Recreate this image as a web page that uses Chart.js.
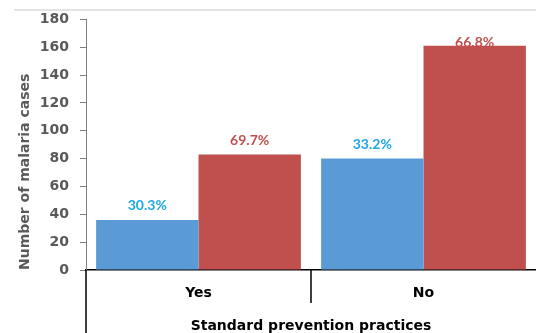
<!DOCTYPE html>
<html>
<head>
<meta charset="utf-8" />
<title>Malaria cases by standard prevention practices</title>
<script src="https://cdn.jsdelivr.net/npm/chart.js@4/dist/chart.umd.min.js"></script>
<style>
  html, body { margin: 0; padding: 0; background: #fff; }
  #wrap { width: 536px; height: 333px; }
</style>
</head>
<body>
<div id="wrap"><canvas id="chart" width="536" height="333"></canvas></div>
<script>
    var categories = ['Yes', 'No'];
    var blueCases = [36, 80];
    var redCases = [83, 161];
    var bluePct = ['30.3%', '33.2%'];
    var redPct = ['69.7%', '66.8%'];
    var yTicks = [0, 20, 40, 60, 80, 100, 120, 140, 160, 180];

    var axisFont = '"DejaVu Sans", "Liberation Sans", Arial';

    // percent labels over the bars
    var pctLabels = {
        id: 'pctLabels',
        afterDatasetsDraw: function(chart) {
            var ctx = chart.ctx;
            var sets = [bluePct, redPct];
            var colors = ['#1ea7e1', '#c0504d'];
            ctx.save();
            ctx.font = 'bold 14px Lato, "Liberation Sans", sans-serif';
            ctx.textAlign = 'center';
            ctx.textBaseline = 'middle';
            for (var d = 0; d < 2; d++) {
                var meta = chart.getDatasetMeta(d);
                ctx.fillStyle = colors[d];
                meta.data.forEach(function(bar, i) {
                    var y = Math.max(bar.y - 14, chart.chartArea.top + 23);
                    ctx.fillText(sets[d][i], bar.x, y);
                });
            }
            ctx.restore();
        }
    };

    // frame lines under the axis, plus the faint rule at the top
    var frame = {
        id: 'frame',
        afterDraw: function(chart) {
            var ctx = chart.ctx;
            var a = chart.chartArea;
            var x = chart.scales.x;
            var mid = (x.getPixelForValue(0) + x.getPixelForValue(1)) / 2;
            ctx.save();
            ctx.strokeStyle = '#e3e3e3';
            ctx.lineWidth = 2;
            ctx.beginPath();
            ctx.moveTo(14, 10);
            ctx.lineTo(chart.width, 10);
            ctx.stroke();
            ctx.strokeStyle = '#000';
            ctx.lineWidth = 1.5;
            ctx.beginPath();
            ctx.moveTo(a.left, a.bottom);
            ctx.lineTo(a.left, chart.height);
            ctx.moveTo(mid, a.bottom);
            ctx.lineTo(mid, a.bottom + 33);
            ctx.stroke();
            ctx.restore();
        }
    };

    new Chart(document.getElementById('chart'), {
        type: 'bar',
        data: {
            labels: categories,
            datasets: [
                { data: blueCases, backgroundColor: '#5b9bd5' },
                { data: redCases, backgroundColor: '#c0504d' }
            ]
        },
        options: {
            responsive: false,
            animation: false,
            layout: { padding: { top: 19, right: -2, left: 0, bottom: 0 } },
            plugins: { legend: { display: false }, tooltip: { enabled: false } },
            datasets: { bar: { barPercentage: 1, categoryPercentage: 0.91 } },
            scales: {
                x: {
                    afterFit: function(s) { s.height = 63; },
                    grid: { drawOnChartArea: false, drawTicks: false },
                    border: { color: '#000', width: 1.5 },
                    ticks: { padding: 15, color: '#000', font: { family: axisFont, size: 14, weight: 'bold' } },
                    title: {
                        display: true, text: 'Standard prevention practices', color: '#000',
                        padding: 0,
                        font: { family: axisFont, size: 14, weight: 'bold', lineHeight: 1 }
                    }
                },
                y: {
                    min: 0, max: 180,
                    afterFit: function(s) { s.width = 86; },
                    afterBuildTicks: function(s) { s.ticks = yTicks.map(function(v) { return { value: v }; }); },
                    grid: { drawOnChartArea: false, tickLength: 6, color: '#7f7f7f' },
                    border: { color: '#7f7f7f', width: 1 },
                    ticks: { padding: 11, color: '#595959', font: { family: axisFont, size: 14, weight: 'bold' } },
                    title: {
                        display: true, text: 'Number of malaria cases', color: '#595959',
                        align: 'start', padding: { top: 18, bottom: 0 },
                        font: { family: axisFont, size: 14, weight: 'bold', lineHeight: 1 }
                    }
                }
            }
        },
        plugins: [pctLabels, frame]
    });
</script>
</body>
</html>
